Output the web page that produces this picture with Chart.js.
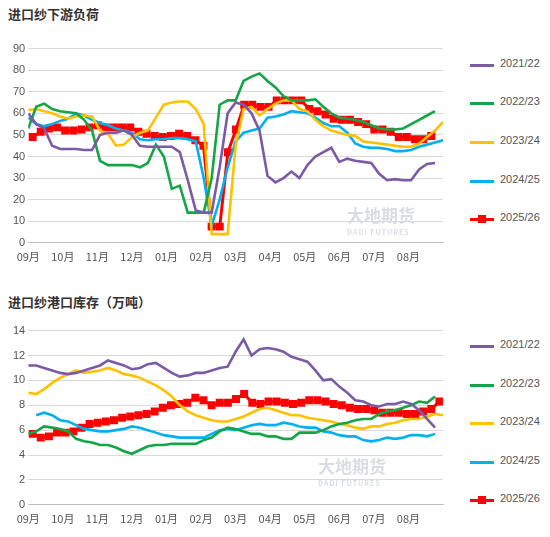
<!DOCTYPE html>
<html><head><meta charset="utf-8">
<script src="https://cdn.jsdelivr.net/npm/chart.js@4"></script>
<style>
body{margin:0;width:550px;height:537px;background:#fff;font-family:"Noto Sans CJK SC","Noto Sans",sans-serif;position:relative;overflow:hidden}
.title{position:absolute;left:8px;font-size:13px;font-weight:bold;color:#333}
.wrap{position:absolute;left:0;width:455px}
.leg{position:absolute;left:470px;font-size:11px;color:#555;font-family:"Liberation Sans",sans-serif}
.leg .sw{position:absolute;left:0;top:7px;width:24px;height:3px}
.leg span{position:absolute;left:30px;top:0;white-space:nowrap}
.mk{position:absolute;left:8px;top:4px;width:8px;height:8px;background:#f00}
.wm{position:absolute;color:#d9dde3;font-size:17px;font-weight:bold}
.wm small{display:block;font-size:7px;letter-spacing:1px}
</style></head>
<body>
<div class="title" style="top:4px">进口纱下游负荷</div>
<div class="wrap" style="top:39px;height:227px"><canvas id="c1"></canvas></div>
<div class="title" style="top:292px">进口纱港口库存（万吨）</div>
<div class="wrap" style="top:321px;height:207px"><canvas id="c2"></canvas></div>
<div class="wm" style="left:347px;top:202px">大地期货<small>DADI FUTURES</small></div>
<div class="wm" style="left:318px;top:453px">大地期货<small>DADI FUTURES</small></div>
<div id="leg1"></div><div id="leg2"></div>
<script>
const months = ['09月','10月','11月','12月','01月','02月','03月','04月','05月','06月','07月','08月'];
const seasons = ['2021/22','2022/23','2023/24','2024/25','2025/26'];
const colors = ['#7B5AA6','#14A546','#FFC000','#00B0F0','#FF0000'];

// 进口纱下游负荷 weekly values
const load2122 = [60,55,53,45,43.5,43.5,43.5,43,43,50,51,51,52,50,45,44.5,44.5,44.5,44.5,42,29,15,14,14,35,60,65,64,60,52,31,28,30,33,30,36,40,42,44,37.5,39,38,37.5,37,32,29,29.5,29,29,34,36.5,37];
const load2223 = [53,63,64.5,62,61,60.5,60,57,52,38,36,36,36,36,35,37,45.5,40,25,26.5,14,14,14,30,64,66,66,75,77,78.5,75,72,68,66,66,66,66.5,63,60,58,57.5,57,56,54.5,53,52.5,52.5,53,55,57,59,61];
const load2324 = [61.5,62,61,60,58.5,57.5,58.5,59,58.5,52,50.5,45,45.5,49,51,52,58,64,65,65.5,65.5,62,55,4,4,4,45,62,63,59,62,64.5,66,66,62,61,57,54,52,51,50,49.5,47,46.5,46,45.5,45,44.5,44.5,46,49,52,56];
const load2425 = [58,55,54,55,56.5,57.5,60,59,57,55.5,54.5,53,52,51,48,47.5,48,48,48.5,48.5,48,47,30,8,20,35,47,51,52,53,58,58.5,59.5,61,60.5,60,58,55.5,54,54,51,46,44.5,44,44,43.5,42.5,42.5,43,44.5,45.5,46.5,47.5];
const load2526 = [49,51.5,53,53.5,52,52,52.5,53.5,54.5,53.5,53.5,53.5,53.5,51.5,50.5,49.5,49,49.5,50.5,49.5,47.5,45,7.5,7.5,42,52.5,64,64,63,63,66,66,66,66,62,61,59.5,57.5,57,57,56,55,52.5,52.5,51.5,49,49,48,48,49.5];

// 进口纱港口库存 weekly values
const stock2122 = [11.2,11.2,11,10.8,10.6,10.5,10.6,10.8,11,11.2,11.6,11.4,11.2,10.9,11,11.3,11.4,11,10.6,10.3,10.4,10.6,10.6,10.8,11,11.1,12.3,13.3,12,12.5,12.6,12.5,12.3,11.9,11.7,11.5,10.8,10,10.1,9.5,9,8.4,8.3,8,7.9,8.1,8.1,8.3,8.1,7.6,6.9,6.2];
const stock2223 = [5.7,5.9,6.3,6.2,6.1,5.9,5.3,5.1,5,4.8,4.8,4.6,4.3,4.1,4.4,4.7,4.8,4.8,4.9,4.9,4.9,4.9,5.2,5.4,5.9,6.2,6.1,5.9,5.7,5.7,5.5,5.5,5.3,5.3,5.8,5.8,5.8,6,6.3,6.5,6.6,6.8,6.9,6.9,7.3,7.5,7.6,7.8,8,8.3,8.2,8.7];
const stock2324 = [9,8.9,9.3,9.8,10.2,10.5,10.8,10.6,10.7,10.8,11,10.8,10.5,10.4,10.2,9.9,9.6,9.2,8.7,8,7.5,7.2,7,6.8,6.7,6.7,6.9,7.1,7.4,7.7,7.8,7.6,7.4,7.2,7.2,7,6.9,6.8,6.7,6.5,6.4,6.2,6.1,6.3,6.3,6.5,6.6,6.8,6.9,6.9,7.1,7.3,7.2];
const stock2425 = [7.2,7.4,7.2,6.8,6.7,6.4,6.1,6,5.9,5.9,6,6.1,6.3,6.2,6,5.8,5.6,5.5,5.4,5.4,5.4,5.4,5.7,6,6.1,6,6.2,6.4,6.5,6.4,6.4,6.6,6.5,6.3,6.2,6.2,5.9,5.8,5.6,5.5,5.5,5.2,5.1,5.2,5.4,5.3,5.4,5.6,5.6,5.5,5.7];
const stock2526 = [5.7,5.4,5.5,5.8,5.8,5.9,6.2,6.5,6.6,6.7,6.8,7,7.1,7.2,7.3,7.5,7.8,8,8.1,8.2,8.6,8.4,8,8.2,8.2,8.5,8.9,8.2,8.1,8.3,8.3,8.2,8.1,8.2,8.4,8.4,8.3,8.1,8,7.8,7.7,7.7,7.6,7.4,7.4,7.4,7.3,7.3,7.5,7.7,8.3];

const WEEKS = 52;
const pts = (arr, start, step) => arr.map((v, i) => ({x: start + i * step, y: v}));

function ds(series) {
  return series.map((s, k) => ({
    label: seasons[k],
    data: pts(s.data, s.start, s.step),
    borderColor: colors[k],
    backgroundColor: colors[k],
    borderWidth: k === 4 ? 3 : 2.6,
    pointRadius: k === 4 ? 3.5 : 0,
    pointStyle: 'rect',
    tension: 0
  }));
}

function makeChart(id, series, ymax, ystep) {
  return new Chart(document.getElementById(id), {
    type: 'line',
    data: {datasets: ds(series)},
    options: {
      responsive: true, maintainAspectRatio: false, animation: false,
      layout: {padding: {left: 10, right: 12, top: 8}},
      plugins: {legend: {display: false}, tooltip: {enabled: false}},
      scales: {
        x: {
          type: 'linear', min: 0, max: WEEKS,
          afterBuildTicks: sc => { sc.ticks = months.map((m, i) => ({value: i * WEEKS / 12})).concat([{value: WEEKS}]); },
          ticks: {
            autoSkip: false, maxRotation: 0, color: '#555',
            font: {size: 11, family: '"Noto Sans CJK SC"'},
            callback: (v, i) => months[i] || ''
          },
          grid: {display: false, drawTicks: true, tickLength: 4},
          border: {color: '#bfbfbf'}
        },
        y: {
          min: 0, max: ymax,
          ticks: {stepSize: ystep, color: '#555', font: {size: 11, family: '"Liberation Sans"'}},
          grid: {color: '#d9d9d9', drawTicks: false},
          border: {display: false}
        }
      }
    }
  });
}

makeChart('c1', [
  {data: load2122, start: 0, step: 1},
  {data: load2223, start: 0, step: 1},
  {data: load2324, start: 0, step: 1},
  {data: load2425, start: 0, step: 1},
  {data: load2526, start: 0.55, step: 1.02}
], 90, 10);

makeChart('c2', [
  {data: stock2122, start: 0, step: 1},
  {data: stock2223, start: 0, step: 1},
  {data: stock2324, start: 0, step: 1},
  {data: stock2425, start: 1, step: 1},
  {data: stock2526, start: 0.55, step: 1.02}
], 14, 2);

function legend(id, tops) {
  const el = document.getElementById(id);
  seasons.forEach((s, k) => {
    const d = document.createElement('div');
    d.className = 'leg';
    d.style.top = tops[k] + 'px';
    d.innerHTML = '<div class="sw" style="background:' + colors[k] + '"></div>' +
      (k === 4 ? '<div class="mk"></div>' : '') + '<span>' + s + '</span>';
    el.appendChild(d);
  });
}
legend('leg1', [57, 95, 134, 173, 211]);
legend('leg2', [338, 377, 415, 454, 492]);
</script>
</body></html>
